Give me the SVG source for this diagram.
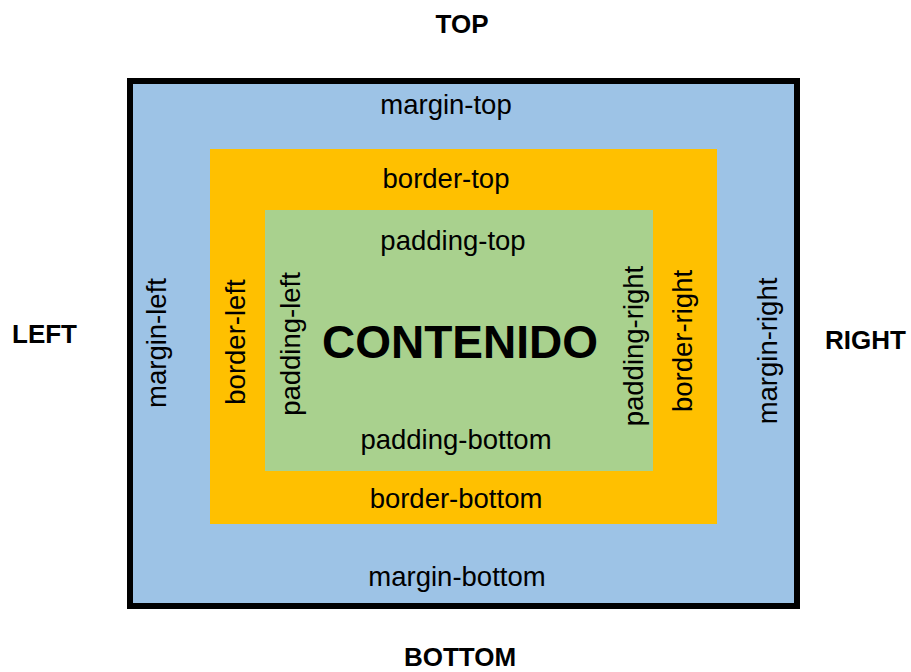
<svg xmlns="http://www.w3.org/2000/svg" width="911" height="672" viewBox="0 0 911 672">
<style>
text{font-family:"Liberation Sans",Arial,sans-serif;fill:#000}
.lbl{font-size:27.5px;text-anchor:middle}
.side{font-size:26px;font-weight:bold}
.big{font-size:46px;font-weight:bold;text-anchor:middle}
</style>
<rect width="911" height="672" fill="#fff"/>
<g id="margin">
<rect x="130" y="81" width="667" height="525" fill="#9DC3E6" stroke="#000" stroke-width="6"/>
<text class="lbl" x="446" y="114">margin-top</text>
<text class="lbl" x="457" y="586">margin-bottom</text>
<text class="lbl" transform="translate(166,343) rotate(-90)">margin-left</text>
<text class="lbl" transform="translate(777,351) rotate(-90)">margin-right</text>
</g>
<g id="border">
<rect x="210" y="149" width="507" height="375" fill="#FFC000"/>
<text class="lbl" x="446" y="188">border-top</text>
<text class="lbl" x="456" y="508">border-bottom</text>
<text class="lbl" transform="translate(245,342) rotate(-90)">border-left</text>
<text class="lbl" transform="translate(692,341) rotate(-90)">border-right</text>
</g>
<g id="padding">
<rect x="265" y="210" width="388" height="261" fill="#A9D18E"/>
<text class="lbl" x="453" y="250">padding-top</text>
<text class="lbl" x="456" y="449">padding-bottom</text>
<text class="lbl" transform="translate(300,344) rotate(-90)">padding-left</text>
<text class="lbl" transform="translate(643,346) rotate(-90)">padding-right</text>
</g>
<g id="content">
<text class="big" x="460" y="358">CONTENIDO</text>
</g>
<g id="sides">
<text class="side" x="462" y="33" text-anchor="middle">TOP</text>
<text class="side" x="460" y="666" text-anchor="middle">BOTTOM</text>
<text class="side" x="12" y="343">LEFT</text>
<text class="side" x="825" y="349">RIGHT</text>
</g>
<g id="connectors"></g>
</svg>
